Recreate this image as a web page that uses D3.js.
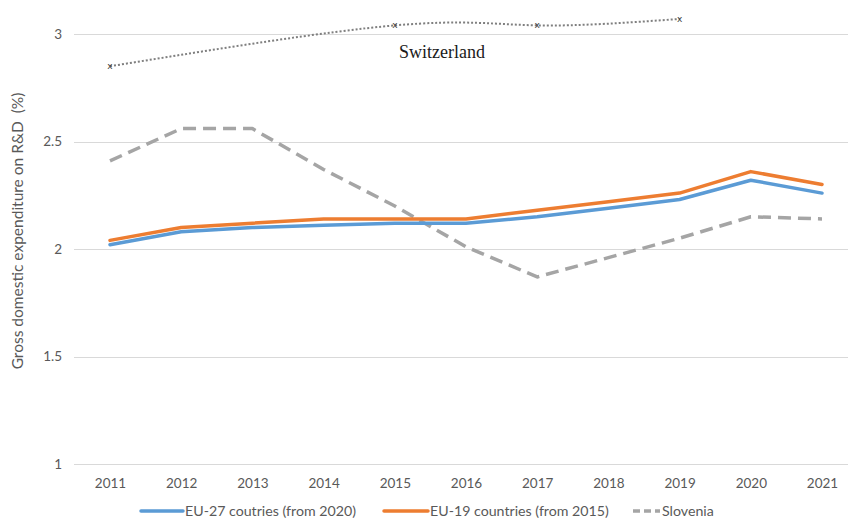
<!DOCTYPE html>
<html>
<head>
<meta charset="utf-8">
<script src="https://cdn.jsdelivr.net/npm/d3@7"></script>
<style>
  html, body { margin: 0; padding: 0; background: #fff; }
  svg { display: block; }
  text { font-family: Lato, "Open Sans", sans-serif; }
</style>
</head>
<body>
<svg id="chart" width="848" height="518"></svg>
<script>
// Gross domestic expenditure on R&D (% of GDP)
const years = [2011, 2012, 2013, 2014, 2015, 2016, 2017, 2018, 2019, 2020, 2021];
const eu27 = [2.02, 2.08, 2.10, 2.11, 2.12, 2.12, 2.15, 2.19, 2.23, 2.32, 2.26];
const eu19 = [2.04, 2.10, 2.12, 2.14, 2.14, 2.14, 2.18, 2.22, 2.26, 2.36, 2.30];
const slovenia = [2.41, 2.56, 2.56, 2.37, 2.20, 2.01, 1.87, 1.96, 2.05, 2.15, 2.14];

// Switzerland is only reported every other year
const swissYears = [2011, 2015, 2017, 2019];
const swiss = [2.85, 3.04, 3.04, 3.07];

const yTicks = [1, 1.5, 2, 2.5, 3];
const seriesNames = ["EU-27 coutries (from 2020)", "EU-19 countries (from 2015)", "Slovenia"];
const yTitle = "Gross domestic expenditure on R&D  (%)";

const colors = { eu27: "#5B9BD5", eu19: "#ED7D31", slo: "#A5A5A5", swiss: "#7F7F7F" };

const svg = d3.select("#chart");
const W = 848;

const x = d3.scaleLinear().domain([2011, 2021]).range([110, 822]);
const y = d3.scaleLinear().domain([1, 3]).range([464, 34]);

// Horizontal gridlines
svg.append("g")
  .selectAll("line")
  .data(yTicks)
  .join("line")
  .attr("x1", 74).attr("x2", W)
  .attr("y1", d => Math.round(y(d)) + 0.5).attr("y2", d => Math.round(y(d)) + 0.5)
  .attr("stroke", "#D9D9D9").attr("stroke-width", 1);

// Y axis labels
const yAxis = d3.axisLeft(y).tickValues(yTicks).tickSize(0).tickPadding(0)
  .tickFormat(d3.format("~g"));
const gy = svg.append("g").attr("transform", "translate(62,0)").call(yAxis);
gy.select(".domain").remove();
gy.selectAll("text").attr("fill", "#595959").style("font-size", "13.5px")
  .style("font-family", "Lato, 'Open Sans', sans-serif");

// X axis labels
const xAxis = d3.axisBottom(x).tickValues(years).tickSize(0).tickPadding(0)
  .tickFormat(d3.format("d"));
const gx = svg.append("g").attr("transform", "translate(0,478)").call(xAxis);
gx.select(".domain").remove();
gx.selectAll("text").attr("fill", "#595959").style("font-size", "13.5px")
  .style("font-family", "Lato, 'Open Sans', sans-serif");

// Y axis title
svg.append("text")
  .attr("transform", "translate(23,231) rotate(-90)")
  .attr("text-anchor", "middle")
  .attr("fill", "#595959")
  .style("font-size", "15.5px")
  .style("white-space", "pre")
  .attr("xml:space", "preserve")
  .text(yTitle);

const line = d3.line().x(d => x(d[0])).y(d => y(d[1])).curve(d3.curveLinear);

function drawSeries(values, color, dash) {
  svg.append("path")
    .datum(years.map((yr, i) => [yr, values[i]]))
    .attr("d", line)
    .attr("fill", "none")
    .attr("stroke", color)
    .attr("stroke-width", 3.5)
    .attr("stroke-linejoin", "round")
    .attr("stroke-linecap", dash ? "butt" : "round")
    .attr("stroke-dasharray", dash || null);
}

drawSeries(slovenia, colors.slo, "13,7");
drawSeries(eu27, colors.eu27, null);
drawSeries(eu19, colors.eu19, null);

// Switzerland: smoothed dotted curve with x markers
const swissPts = swissYears.map((yr, i) => [yr, swiss[i]]);
svg.append("path")
  .datum(swissPts)
  .attr("d", d3.line().x(d => x(d[0])).y(d => y(d[1])).curve(d3.curveNatural))
  .attr("fill", "none")
  .attr("stroke", colors.swiss)
  .attr("stroke-width", 2)
  .attr("stroke-dasharray", "2,2");

svg.append("g")
  .selectAll("text")
  .data(swissPts)
  .join("text")
  .attr("x", d => x(d[0]))
  .attr("y", d => y(d[1]) + 3)
  .attr("text-anchor", "middle")
  .attr("fill", "#3a3a3a")
  .style("font-size", "9px")
  .style("font-family", "'DejaVu Sans', sans-serif")
  .text("x");

svg.append("text")
  .attr("x", 399).attr("y", 58)
  .attr("fill", "#1a1a1a")
  .style("font-family", "'Liberation Serif', 'Times New Roman', serif")
  .style("font-size", "18px")
  .text("Switzerland");

// Legend
const legendItems = [
  { name: seriesNames[0], color: colors.eu27, dash: null, x0: 141, x1: 183 },
  { name: seriesNames[1], color: colors.eu19, dash: null, x0: 384, x1: 428 },
  { name: seriesNames[2], color: colors.slo, dash: "7,4", x0: 633, x1: 660 }
];
const lg = svg.append("g");
legendItems.forEach(it => {
  lg.append("line")
    .attr("x1", it.x0).attr("x2", it.x1)
    .attr("y1", 511).attr("y2", 511)
    .attr("stroke", it.color).attr("stroke-width", 3.5)
    .attr("stroke-linecap", it.dash ? "butt" : "round")
    .attr("stroke-dasharray", it.dash);
  lg.append("text")
    .attr("x", it.x1 + 2).attr("y", 516)
    .attr("fill", "#595959")
    .style("font-size", "14.2px")
    .text(it.name);
});
</script>
</body>
</html>
